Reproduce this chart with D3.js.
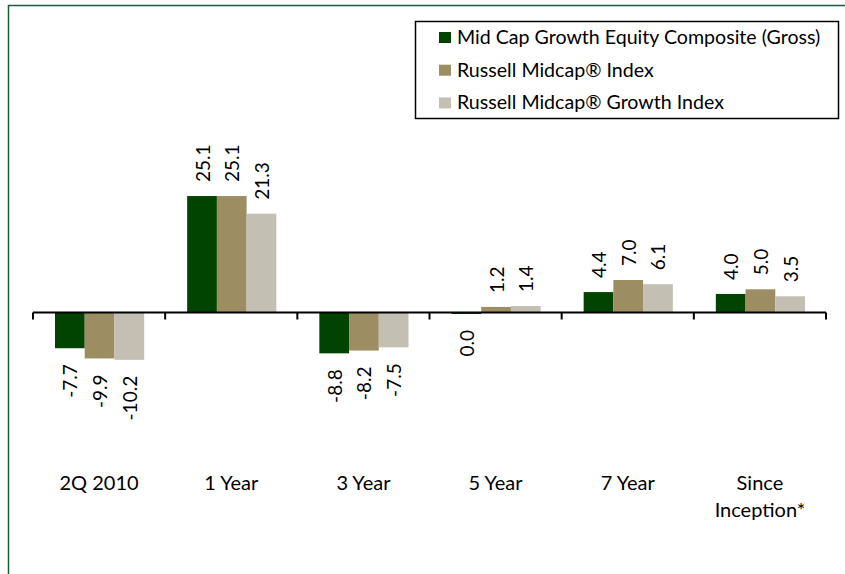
<!DOCTYPE html>
<html>
<head>
<meta charset="utf-8">
<script src="https://cdn.jsdelivr.net/npm/d3@7"></script>
<style>
  body { margin: 0; background: #fff; }
  text { font-family: Lato, "Open Sans", sans-serif; fill: #000; }
</style>
</head>
<body>
<div id="chart"></div>
<script>
const categories = ["2Q 2010", "1 Year", "3 Year", "5 Year", "7 Year", "Since Inception*"];
const series = ["Mid Cap Growth Equity Composite (Gross)", "Russell Midcap\u00AE Index", "Russell Midcap\u00AE Growth Index"];
const composite = [-7.7, 25.1, -8.8, -0.04, 4.4, 4.0];
const midcap = [-9.9, 25.1, -8.2, 1.2, 7.0, 5.0];
const midcapGrowth = [-10.2, 21.3, -7.5, 1.4, 6.1, 3.5];
const colors = ["#014401", "#9d8d62", "#c3bfb3"];

const width = 845, height = 574;

const svg = d3.select("#chart")
  .append("svg")
    .attr("width", width)
    .attr("height", height);

// frame (left and top edges only visible)
svg.append("path")
  .attr("d", "M8.5,574 V5.5 H845")
  .attr("fill", "none")
  .attr("stroke", "#1e5b3c")
  .attr("stroke-width", 1.5);

const values = [composite, midcap, midcapGrowth];
const data = categories.map((c, i) => ({
  cat: c,
  vals: series.map((s, j) => ({ s, j, v: values[j][i] }))
}));

const x0 = d3.scaleBand()
  .domain(categories)
  .range([33, 826]);

const x1 = d3.scaleBand()
  .domain(series)
  .range([22, x0.bandwidth() - 21]);

const y = d3.scaleLinear()
  .domain([-20, 40])
  .range([312.5 + 20 * 4.64, 312.5 - 40 * 4.64]);

// plain hyphen for negatives, like the original
const fmt = d3.formatLocale({decimal: ".", thousands: ",", grouping: [3], currency: ["$", ""], minus: "-"}).format(".1f");

const groups = svg.selectAll(".grp")
  .data(data)
  .join("g")
    .attr("class", "grp")
    .attr("transform", d => `translate(${x0(d.cat)},0)`);

groups.selectAll("rect")
  .data(d => d.vals)
  .join("rect")
    .attr("x", d => x1(d.s))
    .attr("width", x1.bandwidth())
    .attr("y", d => d.v >= 0 ? y(d.v) : y(0))
    .attr("height", d => Math.max(1.5, Math.abs(y(d.v) - y(0))))
    .attr("fill", d => colors[d.j]);

groups.selectAll(".lbl")
  .data(d => d.vals)
  .join("text")
    .attr("class", "lbl")
    .attr("font-size", 19)
    .attr("dominant-baseline", "central")
    .attr("text-anchor", d => d.v >= 0 ? "start" : "end")
    .attr("transform", d => {
      const cx = x1(d.s) + x1.bandwidth() / 2;
      const cy = d.v >= 0 ? y(d.v) - 14 : Math.max(y(d.v), y(0) + 1.5) + 16;
      return `translate(${cx},${cy}) rotate(-90)`;
    })
    .text(d => fmt(d.v));

// zero axis
const axis = svg.append("g")
  .attr("transform", `translate(0,${y(0)})`)
  .call(d3.axisBottom(x0).tickSize(0).tickFormat(""));
axis.select(".domain").remove();
axis.append("line")
  .attr("x1", 33).attr("x2", 826)
  .attr("stroke", "#000").attr("stroke-width", 2);
axis.selectAll(".edge")
  .data(d3.range(categories.length + 1))
  .join("line")
    .attr("class", "edge")
    .attr("x1", i => 33 + i * x0.step())
    .attr("x2", i => 33 + i * x0.step())
    .attr("y1", 0).attr("y2", 7)
    .attr("stroke", "#000").attr("stroke-width", 2);

// category labels
svg.selectAll(".cat")
  .data(categories)
  .join("text")
    .attr("class", "cat")
    .attr("font-size", 20)
    .attr("text-anchor", "middle")
    .attr("x", d => x0(d) + x0.bandwidth() / 2)
    .attr("y", 490)
    .each(function(d) {
      const words = d === "Since Inception*" ? ["Since", "Inception*"] : [d];
      d3.select(this).selectAll("tspan")
        .data(words)
        .join("tspan")
          .attr("x", x0(d) + x0.bandwidth() / 2)
          .attr("dy", (w, k) => k === 0 ? 0 : 27)
          .text(w => w);
    });

// legend
const legend = svg.append("g");
legend.append("rect")
  .attr("x", 415.5).attr("y", 21.5)
  .attr("width", 423).attr("height", 97)
  .attr("fill", "#fff")
  .attr("stroke", "#000").attr("stroke-width", 1.5);

const items = legend.selectAll(".item")
  .data(series)
  .join("g")
    .attr("class", "item")
    .attr("transform", (d, i) => `translate(439,${44 + i * 32.7})`);
items.append("rect")
  .attr("x", 0).attr("y", -12)
  .attr("width", 12).attr("height", 11)
  .attr("fill", (d, i) => colors[i]);
items.append("text")
  .attr("x", 18).attr("y", 0)
  .attr("font-size", 19.6)
  .text(d => d);
</script>
</body>
</html>
